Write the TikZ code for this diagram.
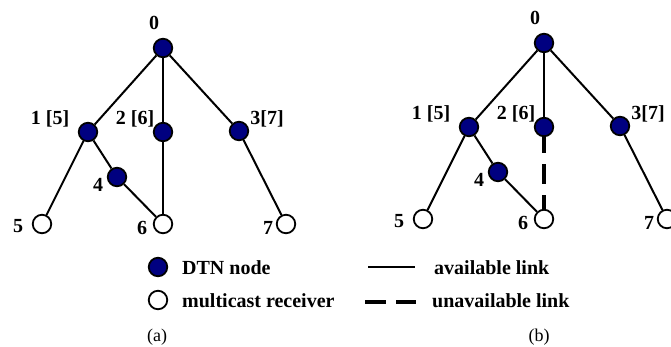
\documentclass[tikz,border=0pt]{standalone}
\usepackage{fontspec}
\setmainfont{Liberation Serif}
\definecolor{dtnblue}{RGB}{0,0,128}

\begin{document}
\begin{tikzpicture}[x=1pt,y=-1pt,
  link/.style={line width=2pt},
  downlink/.style={line width=3.5pt, dash pattern=on 20pt off 11pt, dash phase=4pt},
  dtn/.style={circle, draw, line width=1.8pt, fill=dtnblue, minimum size=18.5pt, inner sep=0pt},
  rcv/.style={circle, draw, line width=1.8pt, fill=white, minimum size=18.5pt, inner sep=0pt},
  lbl/.style={font=\fontsize{20}{24}\selectfont\bfseries, anchor=base, inner sep=0pt},
  capt/.style={font=\fontsize{18}{22}\selectfont, anchor=base, inner sep=0pt}]
\useasboundingbox (0,0) rectangle (671,346);

% ---------- tree (a): all links available ----------
\node[dtn] (a0) at (163,48) {};
\node[dtn] (a1) at (88,132) {};
\node[dtn] (a2) at (163,132) {};
\node[dtn] (a3) at (239,131) {};
\node[dtn] (a4) at (117,177) {};
\node[rcv] (a5) at (42,224) {};
\node[rcv] (a6) at (163,224) {};
\node[rcv] (a7) at (286,224) {};

\node[lbl] (la0) at (154,29) {0};
\node[lbl] (la1) at (50,124) {1 [5]};
\node[lbl] (la2) at (135,124) {2 [6]};
\node[lbl] (la3) at (267,124) {3[7]};
\node[lbl] (la4) at (98,191) {4};
\node[lbl] (la5) at (18,232) {5};
\node[lbl] (la6) at (142,234) {6};
\node[lbl] (la7) at (268,234) {7};

\draw[link] (a0) -- (a1);
\draw[link] (a0) -- (a2);
\draw[link] (a0) -- (a3);
\draw[link] (a1) -- (a5);
\draw[link] (a1) -- (a4);
\draw[link] (a4) -- (a6);
\draw[link] (a2) -- (a6);
\draw[link] (a3) -- (a7);

% ---------- tree (b): link 2-6 unavailable ----------
\begin{scope}[shift={(381,-5)}]
\node[dtn] (b0) at (163,48) {};
\node[dtn] (b1) at (88,132) {};
\node[dtn] (b2) at (163,132) {};
\node[dtn] (b3) at (239,131) {};
\node[dtn] (b4) at (117,177) {};
\node[rcv] (b5) at (42,224) {};
\node[rcv] (b6) at (163,224) {};
\node[rcv] (b7) at (286,224) {};

\node[lbl] (lb0) at (154,29) {0};
\node[lbl] (lb1) at (50,124) {1 [5]};
\node[lbl] (lb2) at (135,124) {2 [6]};
\node[lbl] (lb3) at (267,124) {3[7]};
\node[lbl] (lb4) at (98,191) {4};
\node[lbl] (lb5) at (18,232) {5};
\node[lbl] (lb6) at (142,234) {6};
\node[lbl] (lb7) at (268,234) {7};
\end{scope}

\draw[link] (b0) -- (b1);
\draw[link] (b0) -- (b2);
\draw[link] (b0) -- (b3);
\draw[link] (b1) -- (b5);
\draw[link] (b1) -- (b4);
\draw[link] (b4) -- (b6);
\draw[downlink] (b2) -- (b6);
\draw[link] (b3) -- (b7);

% ---------- legend ----------
\node[dtn] (kd) at (158,267) {};
\node[rcv] (kr) at (158,300) {};
\node[lbl, anchor=base west] (kdt) at (182,274) {DTN node};
\node[lbl, anchor=base west] (krt) at (182,307) {multicast receiver};

\coordinate (s1) at (368,267);
\coordinate (s2) at (415,267);
\draw[link] (s1) -- (s2);
\node[lbl, anchor=base west] (kst) at (434,274) {available link};

\coordinate (d1) at (365,302);
\coordinate (d2) at (416,302);
\draw[line width=4pt, dash pattern=on 21pt off 10pt] (d1) -- (d2);
\node[lbl, anchor=base west] (kdl) at (432,307) {unavailable link};

\node[capt] (capa) at (157,341) {(a)};
\node[capt] (capb) at (539,341) {(b)};
\end{tikzpicture}
\end{document}
